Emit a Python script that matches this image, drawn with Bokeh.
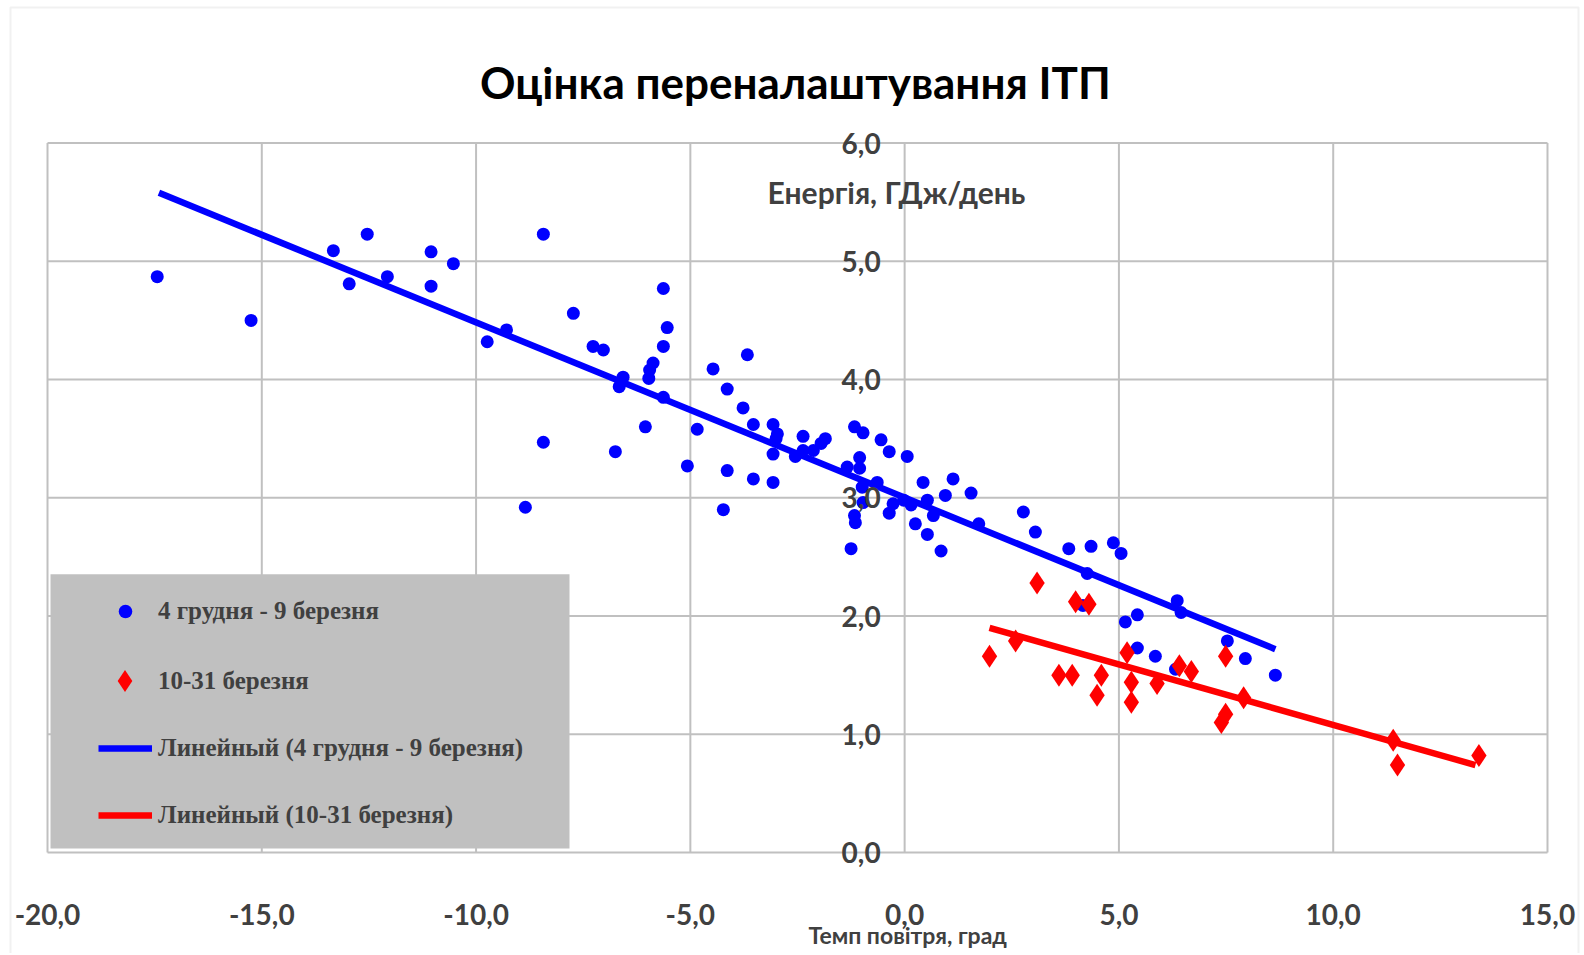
from bokeh.plotting import figure
from bokeh.models import (FixedTicker, Legend, LegendItem, BoxAnnotation, Label,
                          ColumnDataSource, Range1d)
from bokeh.embed import file_html
from bokeh.resources import INLINE

# ---------------- data ----------------
TITLE = "Оцінка переналаштування ІТП"
Y_TITLE = "Енергія, ГДж/день"
X_TITLE = "Темп повітря, град"
SERIES1 = "4 грудня - 9 березня"
SERIES2 = "10-31 березня"
TREND1 = "Линейный (4 грудня - 9 березня)"
TREND2 = "Линейный (10-31 березня)"

x_ticks = [-20, -15, -10, -5, 0, 5, 10, 15]
x_tick_labels = ["-20,0", "-15,0", "-10,0", "-5,0", "0,0", "5,0", "10,0", "15,0"]
y_ticks = [0, 1, 2, 3, 4, 5, 6]
y_tick_labels = ["0,0", "1,0", "2,0", "3,0", "4,0", "5,0", "6,0"]

blue_x = [-17.44, -15.25, -13.33, -12.54, -12.96, -12.07, -11.05, -11.05, -10.53, -8.43,
          -7.73, -9.29, -9.74, -7.27, -7.03, -8.43, -8.85, -6.75,
          -5.63, -5.54, -5.63, -5.87, -5.95, -5.97, -6.57, -6.66, -5.63, -6.05,
          -5.07, -4.47, -3.67, -4.14, -3.77, -4.84, -3.53, -4.14, -3.53, -4.23,
          -3.07, -3.07, -2.97, -3.00, -3.07, -2.37, -2.55, -2.37, -2.13, -1.95,
          -1.85, -1.17, -0.97, -0.55, -0.36, 0.06, -1.34, -1.05, -1.05, -0.64,
          -0.99, -0.97, -1.17, -1.15, -1.25, -0.27, -0.36, -0.02, 0.15, 0.43,
          0.53, 0.67, 0.25, 0.53, 0.85, 0.95, 1.13, 1.55, 1.73, 2.77,
          3.05, 3.83, 4.35, 4.87, 5.05, 4.26, 4.16, 6.36, 6.45, 5.15,
          5.43, 5.43, 5.85, 6.32, 7.53, 7.95, 8.65]
blue_y = [4.87, 4.50, 5.09, 5.23, 4.81, 4.87, 5.08, 4.79, 4.98, 5.23,
          4.56, 4.42, 4.32, 4.28, 4.25, 3.47, 2.92, 3.39,
          4.77, 4.44, 4.28, 4.14, 4.08, 4.01, 4.02, 3.94, 3.85, 3.60,
          3.27, 4.09, 4.21, 3.92, 3.76, 3.58, 3.62, 3.23, 3.16, 2.90,
          3.13, 3.62, 3.54, 3.50, 3.37, 3.52, 3.35, 3.40, 3.40, 3.46,
          3.50, 3.60, 3.55, 3.49, 3.39, 3.35, 3.26, 3.34, 3.25, 3.13,
          3.09, 2.96, 2.85, 2.79, 2.57, 2.95, 2.87, 2.98, 2.94, 3.13,
          2.98, 2.85, 2.78, 2.69, 2.55, 3.02, 3.16, 3.04, 2.78, 2.88,
          2.71, 2.57, 2.59, 2.62, 2.53, 2.36, 2.09, 2.13, 2.03, 1.95,
          2.01, 1.73, 1.66, 1.55, 1.79, 1.64, 1.50]

red_x = [1.98, 2.59, 3.09, 3.60, 3.91, 3.99, 4.30, 4.49, 4.59, 5.19, 5.29,
         5.29, 5.89, 6.41, 6.69, 7.49, 7.39, 7.49, 7.91, 11.40, 11.50, 13.40]
red_y = [1.66, 1.79, 2.28, 1.50, 1.50, 2.12, 2.10, 1.33, 1.50, 1.69, 1.44,
         1.27, 1.43, 1.58, 1.53, 1.66, 1.10, 1.17, 1.31, 0.95, 0.74, 0.82]

trend1_x = [-17.40, 8.65]
trend1_y = [5.58, 1.72]
trend2_x = [1.98, 13.32]
trend2_y = [1.90, 0.74]

# ---------------- styles ----------------
GRID = "#c0c0c0"
TXT = "#404040"
FONT = "Lato"

# The frame covers the whole canvas, so that the axis labels drawn at x=0 / y=0,
# the title and the chart border are never clipped.
p = figure(width=1582, height=953,
           x_range=Range1d(-21.097, 15.817), y_range=Range1d(-0.854, 7.206),
           output_backend="svg", toolbar_location=None,
           min_border_left=0, min_border_right=0,
           min_border_top=0, min_border_bottom=0)
p.background_fill_color = "white"
p.border_fill_color = "white"
p.outline_line_color = None

xt = FixedTicker(ticks=x_ticks)
yt = FixedTicker(ticks=y_ticks)

xa = p.xaxis[0]
xa.ticker = xt
xa.fixed_location = 0
xa.major_label_overrides = dict(zip(x_ticks, x_tick_labels))
xa.axis_line_color = None
xa.major_tick_out = 0
xa.major_tick_in = 0
xa.minor_tick_out = 0
xa.minor_tick_in = 0
xa.major_label_standoff = 51
xa.major_label_text_font = FONT
xa.major_label_text_font_size = "28px"
xa.major_label_text_font_style = "bold"
xa.major_label_text_color = TXT

ya = p.yaxis[0]
ya.ticker = yt
ya.fixed_location = 0
ya.major_label_overrides = dict(zip(y_ticks, y_tick_labels))
ya.axis_line_color = None
ya.major_tick_out = 0
ya.major_tick_in = 0
ya.minor_tick_out = 0
ya.minor_tick_in = 0
ya.major_label_standoff = 24
ya.major_label_text_font = FONT
ya.major_label_text_font_size = "28px"
ya.major_label_text_font_style = "bold"
ya.major_label_text_color = TXT

# grid lines, limited to the span of the tick values
p.xgrid[0].visible = False
p.ygrid[0].visible = False
p.segment(x0=x_ticks, x1=x_ticks, y0=[y_ticks[0]] * len(x_ticks),
          y1=[y_ticks[-1]] * len(x_ticks), line_color=GRID, line_width=2)
p.segment(x0=[x_ticks[0]] * len(y_ticks), x1=[x_ticks[-1]] * len(y_ticks),
          y0=y_ticks, y1=y_ticks, line_color=GRID, line_width=2)

src1 = ColumnDataSource(dict(x=blue_x, y=blue_y))
src2 = ColumnDataSource(dict(x=red_x, y=red_y))

r1 = p.scatter("x", "y", source=src1, marker="circle", size=13,
               fill_color="#0000ff", line_color=None)
r2 = p.scatter("x", "y", source=src2, marker="diamond", size=23,
               fill_color="#ff0000", line_color=None)
r3 = p.line(trend1_x, trend1_y, line_color="#0000ff", line_width=6.5)
r4 = p.line(trend2_x, trend2_y, line_color="#ff0000", line_width=6.5)

# chart title
p.add_layout(Label(x=-2.55, y=6.52, text=TITLE, text_align="center",
                   text_baseline="alphabetic", text_font=FONT, text_font_size="44px",
                   text_font_style="bold", text_color="black"))
# axis titles
p.add_layout(Label(x=-0.19, y=5.59, text=Y_TITLE, text_align="center",
                   text_baseline="alphabetic", text_font=FONT, text_font_size="30px",
                   text_font_style="bold", text_color=TXT))
p.add_layout(Label(x=0.07, y=-0.70, text=X_TITLE, text_align="center",
                   text_baseline="alphabetic", text_font=FONT, text_font_size="23px",
                   text_font_style="bold", text_color=TXT))

box = BoxAnnotation(left=-19.93, right=-7.82, bottom=0.034, top=2.353,
                    fill_color="#c0c0c0", fill_alpha=1.0, line_color=None)
p.add_layout(box)

# light chart-area border
chart_border = BoxAnnotation(left=10, right=1578, top=7, bottom=990,
                             left_units="canvas", right_units="canvas",
                             top_units="canvas", bottom_units="canvas",
                             fill_alpha=0, line_color="#d0d0d0", line_width=2,
                             level="overlay")
p.add_layout(chart_border)

common = dict(orientation="vertical", background_fill_alpha=0, border_line_color=None,
              padding=0, margin=0,
              label_text_font="Liberation Serif", label_text_font_size="25px",
              label_text_font_style="bold", label_text_color=TXT)

leg1 = Legend(items=[LegendItem(label=SERIES1, renderers=[r1])],
              location=(98, 325), glyph_width=54, glyph_height=34, label_height=34,
              label_standoff=6, **common)
leg2 = Legend(items=[LegendItem(label=SERIES2, renderers=[r2])],
              location=(97, 245), glyph_width=55, glyph_height=55, label_height=55,
              label_standoff=6, **common)
leg3 = Legend(items=[LegendItem(label=TREND1, renderers=[r3]),
                     LegendItem(label=TREND2, renderers=[r4])],
              location=(98, 120), glyph_width=54, glyph_height=36, label_height=36,
              spacing=31, label_standoff=6, **common)
for lg in (leg1, leg2, leg3):
    p.add_layout(lg)

open("out.html", "w").write(file_html(p, INLINE))
